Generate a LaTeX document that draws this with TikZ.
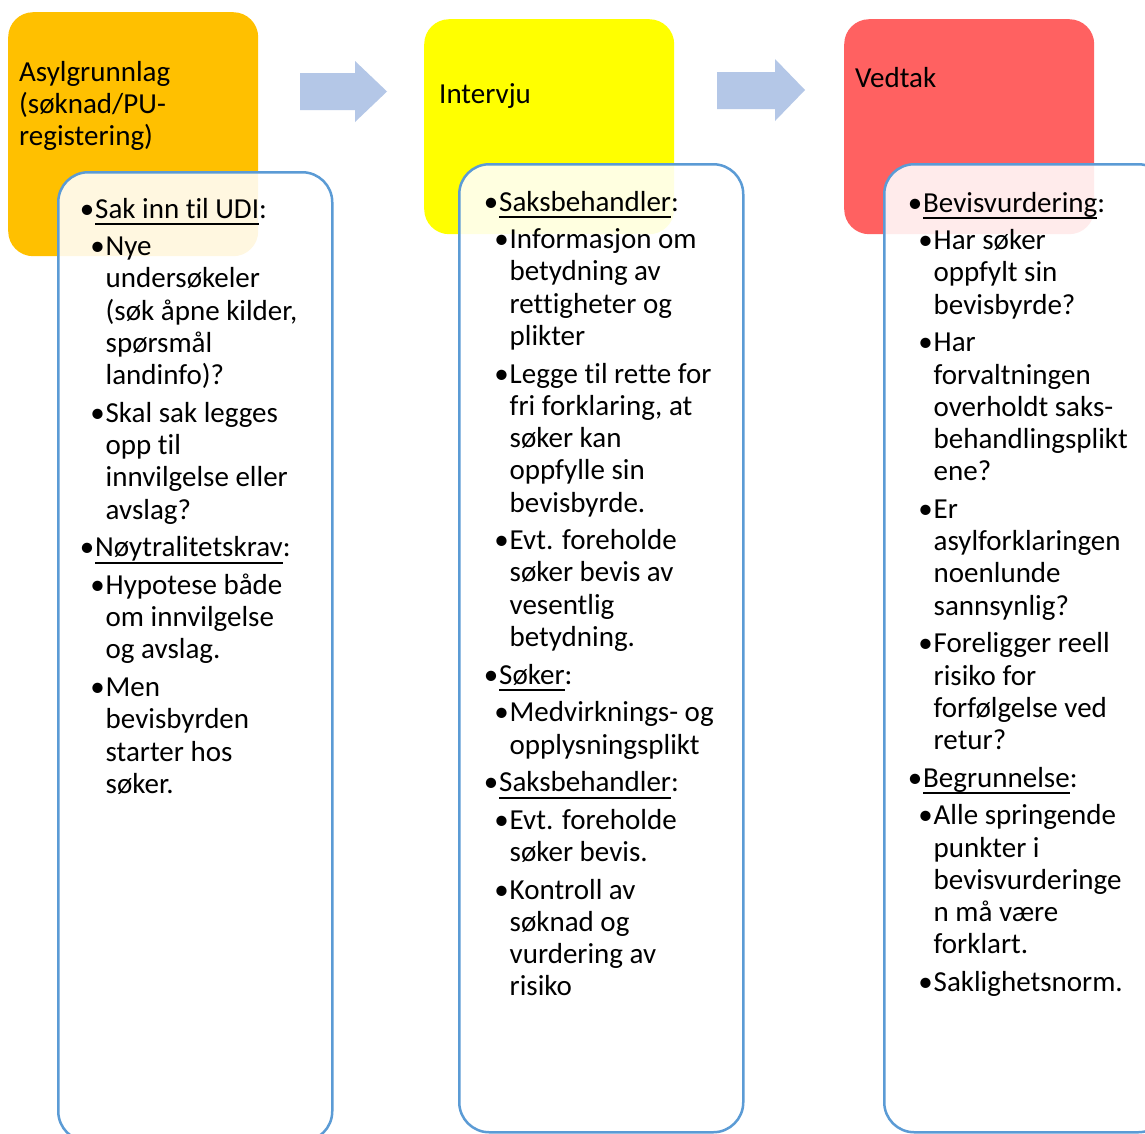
\documentclass[tikz,border=0pt]{standalone}
\usepackage{fontspec}
\setmainfont{Carlito}[Ligatures=NoCommon]
\definecolor{orangebox}{HTML}{FFC000}
\definecolor{yellowbox}{HTML}{FFFF00}
\definecolor{redbox}{HTML}{FF6161}
\definecolor{blueborder}{HTML}{5B9BD5}
\definecolor{arrowblue}{HTML}{B4C7E7}
\newcommand\lvlone{\par\leftskip=0pt\noindent\llap{•\kern1pt}}
\newcommand\lvltwo{\par\leftskip=10.5pt\noindent\llap{•\kern1pt}}
\newcommand\nl{\hfil\break}
\newcommand\ulx[1]{\setbox0\hbox{#1}\rlap{\rule[-7pt]{\wd0}{1.8pt}}\box0}
\newcommand\colsetup{\fontsize{29}{32.25}\selectfont\parindent=0pt\parskip=5.4pt\rightskip=0pt plus 1fil\relax}
\tikzset{
  hdrbox/.style={rectangle, rounded corners=25pt, inner sep=0pt, anchor=north west},
  listbox/.style={rectangle, rounded corners=30pt, inner sep=0pt, anchor=north west,
    draw=blueborder, line width=2.5pt, fill=white, fill opacity=0.88},
  txt/.style={anchor=base west, inner sep=0pt},
  blockarrow/.style={fill=arrowblue}
}
\begin{document}
\begin{tikzpicture}[x=1pt,y=-1pt]
\useasboundingbox (0,0) rectangle (1145,1133);
\clip (0,0) rectangle (1145,1133);
\fill[white] (0,0) rectangle (1145,1133);
% header boxes
\node[hdrbox, fill=orangebox, minimum width=250pt, minimum height=244pt] (b1) at (8,12) {};
\node[hdrbox, fill=yellowbox, minimum width=250pt, minimum height=215pt] (b2) at (424,19) {};
\node[hdrbox, fill=redbox, minimum width=250pt, minimum height=215pt] (b3) at (844,19) {};
% arrows
\fill[blockarrow] (300,73) -- (355,73) -- (355,61) -- (387,91.5) -- (355,122) -- (355,110) -- (300,110) -- cycle;
\fill[blockarrow] (717,72) -- (775,72) -- (775,59) -- (805,90) -- (775,121) -- (775,109) -- (717,109) -- cycle;
% header texts
\node[txt] (h1) at (19,81) {\begin{minipage}[t]{230pt}\fontsize{29}{32}\selectfont Asylgrunnlag\\(søknad/PU-\\registering)\end{minipage}};
\node[txt] (h2) at (439,103) {\fontsize{29}{32}\selectfont Intervju};
\node[txt] (h3) at (855,87) {\fontsize{29}{32}\selectfont Vedtak};
% list boxes
\node[listbox, minimum width=274pt, minimum height=969pt] (l1) at (57,171) {};
\node[listbox, minimum width=284pt, minimum height=968pt] (l2) at (458,163) {};
\node[listbox, minimum width=284pt, minimum height=968pt] (l3) at (883,163) {};
% column 1
\node[txt] (t1) at (95,218) {\begin{minipage}[t]{400pt}\colsetup
\lvlone \ulx{Sak inn til UDI}:
\lvltwo Nye\nl undersøkeler\nl (søk åpne kilder,\nl spørsmål\nl landinfo)?
\lvltwo Skal sak legges\nl opp til\nl innvilgelse eller\nl avslag?
\lvlone \ulx{Nøytralitetskrav}:
\lvltwo Hypotese både\nl om innvilgelse\nl og avslag.
\lvltwo Men\nl bevisbyrden\nl starter hos\nl søker.
\par\end{minipage}};
% column 2
\node[txt] (t2) at (499,211) {\begin{minipage}[t]{400pt}\colsetup
\lvlone \ulx{Saksbehandler}:
\lvltwo Informasjon om\nl betydning av\nl rettigheter og\nl plikter
\lvltwo Legge til rette for\nl fri forklaring, at\nl søker kan\nl oppfylle sin\nl bevisbyrde.
\lvltwo Evt. foreholde\nl søker bevis av\nl vesentlig\nl betydning.
\lvlone \ulx{Søker}:
\lvltwo Medvirknings- og\nl opplysningsplikt
\lvlone \ulx{Saksbehandler}:
\lvltwo Evt. foreholde\nl søker bevis.
\lvltwo Kontroll av\nl søknad og\nl vurdering av\nl risiko
\par\end{minipage}};
% column 3
\node[txt] (t3) at (923,212) {\begin{minipage}[t]{400pt}\colsetup
\lvlone \ulx{Bevisvurdering}:
\lvltwo Har søker\nl oppfylt sin\nl bevisbyrde?
\lvltwo Har\nl forvaltningen\nl overholdt saks-\nl behandlingsplikt\nl ene?
\lvltwo Er\nl asylforklaringen\nl noenlunde\nl sannsynlig?
\lvltwo Foreligger reell\nl risiko for\nl forfølgelse ved\nl retur?
\lvlone \ulx{Begrunnelse}:
\lvltwo Alle springende\nl punkter i\nl bevisvurderinge\nl n må være\nl forklart.
\lvltwo Saklighetsnorm.
\par\end{minipage}};
\end{tikzpicture}
\end{document}
